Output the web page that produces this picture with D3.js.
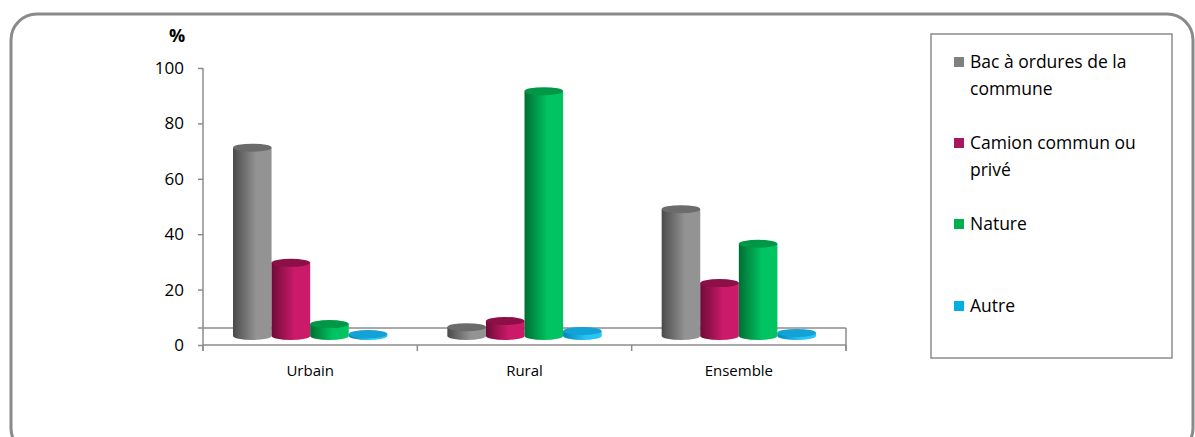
<!DOCTYPE html>
<html>
<head>
<meta charset="utf-8">
<script src="https://cdn.jsdelivr.net/npm/d3@7"></script>
<style>
  body { margin: 0; background: white; }
  text { font-family: "Open Sans", Lato, sans-serif; fill: #000; }
</style>
</head>
<body>
<div id="chart"></div>
<script>
var width = 1195,
    height = 437

// data
var categories = ["Urbain", "Rural", "Ensemble"]
var series = ["Bac à ordures de la commune", "Camion commun ou privé", "Nature", "Autre"]
var bac = [68, 3.2, 45.8]
var camion = [26.4, 5.4, 19.1]
var nature = [4.3, 88.4, 33.3]
var autre = [0.7, 1.8, 1.1]
var yTicks = [0, 20, 40, 60, 80, 100]

var values = [bac, camion, nature, autre]

// colours: [dark side, light side, top]
var colors = [
    ["#4a4a4a", "#939393", "#6b6b6b"],
    ["#6e0c36", "#cc1a6a", "#8c1047"],
    ["#006e33", "#00c462", "#009846"],
    ["#0086b8", "#28c4f4", "#12a2d6"]
]
var legendColors = ["#808080", "#a8195c", "#00b050", "#00b0e0"]

var svg = d3.select("#chart")
    .append("svg")
        .attr("width", width)
        .attr("height", height)

// outer rounded frame
svg.append("rect")
    .attr("x", 11).attr("y", 14)
    .attr("width", 1182).attr("height", 440)
    .attr("rx", 26).attr("ry", 26)
    .attr("fill", "white")
    .attr("stroke", "#8a8a8a")
    .attr("stroke-width", 3)

// scales
var x0 = d3.scaleBand()
    .domain(categories)
    .range([203, 846])

var x1 = d3.scaleBand()
    .domain(series)
    .range([30, x0.bandwidth() - 30])

var y = d3.scaleLinear()
    .domain([0, 100])
    .range([345, 68])

var depth = 9   // 3D shift of the bars toward the back
var ry = 4

// gradients
var defs = svg.append("defs")
colors.forEach(function(c, i) {
    var g = defs.append("linearGradient")
        .attr("id", "grad" + i)
        .attr("x1", "0%").attr("x2", "100%")
        .attr("y1", "0%").attr("y2", "0%")
    g.append("stop").attr("offset", "0%").attr("stop-color", c[0])
    g.append("stop").attr("offset", "60%").attr("stop-color", c[1])
    g.append("stop").attr("offset", "100%").attr("stop-color", c[1])
})

// floor (back edge and right edge)
svg.append("line")
    .attr("x1", 198).attr("x2", 846)
    .attr("y1", y(0) - 17).attr("y2", y(0) - 17)
    .attr("stroke", "#8c8c8c").attr("stroke-width", 1.5)
svg.append("line")
    .attr("x1", 846).attr("x2", 846)
    .attr("y1", y(0) - 17).attr("y2", y(0) + 6)
    .attr("stroke", "#8c8c8c").attr("stroke-width", 1.5)

// y axis
var yAxis = svg.append("g")
    .attr("transform", "translate(203,0)")
    .call(d3.axisLeft(y).tickValues(yTicks).tickSize(5).tickPadding(14))
yAxis.select(".domain").attr("stroke", "#8c8c8c").attr("stroke-width", 1.5)
    .attr("d", "M0,68V351")
yAxis.selectAll(".tick line").attr("stroke", "#8c8c8c").attr("stroke-width", 1.5)
yAxis.selectAll(".tick text").style("font-size", "17px").attr("fill", "#000")
    .style("font-family", "'Open Sans', sans-serif")

svg.append("text")
    .attr("x", 177).attr("y", 42)
    .attr("text-anchor", "middle")
    .style("font-size", "18px")
    .style("font-weight", "bold")
    .text("%")

// x axis
var xAxis = svg.append("g")
    .attr("transform", "translate(0," + y(0) + ")")
    .call(d3.axisBottom(x0).tickSize(0).tickPadding(20))
xAxis.select(".domain").attr("stroke", "#8c8c8c").attr("stroke-width", 1.5)
    .attr("d", "M203,0H846")
xAxis.selectAll(".tick text").style("font-size", "15px").attr("fill", "#000")
    .style("font-family", "'Open Sans', sans-serif")
// tick marks between categories
var bounds = categories.map(function(c) { return x0(c) }).concat([x0.range()[1]])
svg.selectAll(".xtick")
    .data(bounds)
    .enter()
    .append("line")
        .attr("x1", function(d) { return d }).attr("x2", function(d) { return d })
        .attr("y1", y(0)).attr("y2", y(0) + 6)
        .attr("stroke", "#8c8c8c").attr("stroke-width", 1.5)

// cylinders
var bars = []
categories.forEach(function(cat, ci) {
    series.forEach(function(s, si) {
        bars.push({cat: cat, s: s, si: si, v: values[si][ci]})
    })
})

var base = y(0) - depth
var g = svg.selectAll(".bar")
    .data(bars)
    .enter()
    .append("g")
        .attr("class", "bar")

g.append("path")
    .attr("d", function(d) {
        var x = x0(d.cat) + x1(d.s), w = x1.bandwidth()
        var top = Math.min(y(d.v) - depth, base)
        return "M" + x + "," + top + "L" + x + "," + base +
            "A" + (w / 2) + "," + ry + " 0 0 0 " + (x + w) + "," + base +
            "L" + (x + w) + "," + top + "Z"
    })
    .attr("fill", function(d) { return "url(#grad" + d.si + ")" })

g.append("ellipse")
    .attr("cx", function(d) { return x0(d.cat) + x1(d.s) + x1.bandwidth() / 2 })
    .attr("cy", function(d) { return Math.min(y(d.v) - depth, base) })
    .attr("rx", x1.bandwidth() / 2)
    .attr("ry", ry)
    .attr("fill", function(d) { return colors[d.si][2] })

// legend
svg.append("rect")
    .attr("x", 931).attr("y", 34)
    .attr("width", 241).attr("height", 324)
    .attr("fill", "white")
    .attr("stroke", "#8c8c8c").attr("stroke-width", 1.5)

var legendLines = [["Bac à ordures de la", "commune"], ["Camion commun ou", "privé"], ["Nature"], ["Autre"]]
var legendY = [68, 149, 230, 312]

var leg = svg.selectAll(".legend")
    .data(series)
    .enter()
    .append("g")
        .attr("class", "legend")
        .attr("transform", function(d, i) { return "translate(954," + legendY[i] + ")" })

leg.append("rect")
    .attr("x", 0).attr("y", -11)
    .attr("width", 10).attr("height", 10)
    .attr("fill", function(d, i) { return legendColors[i] })

leg.append("text")
    .style("font-size", "17.5px")
    .selectAll("tspan")
    .data(function(d, i) { return legendLines[i] })
    .enter()
    .append("tspan")
        .attr("x", 16)
        .attr("y", function(d, j) { return j * 27 })
        .text(function(d) { return d })
</script>
</body>
</html>
